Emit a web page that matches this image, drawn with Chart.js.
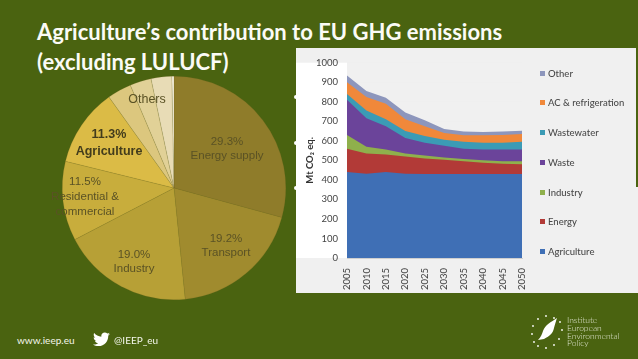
<!DOCTYPE html>
<html lang="en">
<head>
<meta charset="UTF-8">
<title>Agriculture's contribution to EU GHG emissions</title>
<script src="https://cdn.jsdelivr.net/npm/chart.js@4/dist/chart.umd.min.js"></script>
<style>
  html, body { margin: 0; padding: 0; }
  body { width: 638px; height: 359px; background: #4a6310; overflow: hidden; position: relative; font-family: Lato, sans-serif; }
  .abs { position: absolute; }
  h1 { position: absolute; left: 37px; top: 17px; margin: 0; color: #fbfbf6; font: bold 22px/30px Lato, sans-serif; white-space: nowrap; }
  #pieBox { position: absolute; left: 54px; top: 68px; width: 240px; height: 240px; }
  #areaBox { position: absolute; left: 296px; top: 47.500px; width: 342px; height: 245px; background: #f0f0f0; }
  #areaBox canvas, #legend { filter: blur(0.6px); }
  #legend { position: absolute; left: 244px; top: 11px; margin: 0; padding: 0; list-style: none; color: #4a4a4a; font: 500 9.5px/29.8px Lato, sans-serif; white-space: nowrap; }
  #legend i { display: inline-block; width: 5px; height: 5px; margin-right: 3px; vertical-align: 1px; }
  .lab { position: absolute; color: #5a5225; font: 11.5px/14px "Liberation Sans", sans-serif; text-align: center; white-space: nowrap; transform: translateX(-50%); }
  .foot { position: absolute; color: #f4f6ec; font: 10px/14px Lato, sans-serif; top: 333px; }
  .dot { position: absolute; left: 294px; width: 4px; height: 4px; background: #fff; border-radius: 2px; }
</style>
</head>
<body>
<h1>Agriculture’s contribution to EU GHG emissions<br>(excluding LULUCF)</h1>

<div id="pieBox"><canvas id="pie"></canvas></div>
<div class="lab" style="left:227px;top:134px">29.3%<br>Energy supply</div>
<div class="lab" style="left:226px;top:231px">19.2%<br>Transport</div>
<div class="lab" style="left:134px;top:247px">19.0%<br>Industry</div>
<div class="lab" style="left:85px;top:174px;line-height:15px">11.5%<br>Residential &amp;<br>commercial</div>
<div class="lab" style="left:109px;top:126px;font-weight:bold;font-size:12.5px;line-height:17px;color:#423c1c">11.3%<br>Agriculture</div>
<div class="lab" style="left:147px;top:92px;font-size:12.5px">Others</div>

<div class="dot" style="top:95px"></div>
<div class="dot" style="top:141px"></div>
<div class="dot" style="top:186px"></div>
<div id="areaBox"><canvas id="area"></canvas><ul id="legend"></ul></div>
<div class="abs" style="left:636px;top:47px;width:2px;height:140px;background:#4a6310"></div>

<div class="foot" style="left:17px">www.ieep.eu</div>
<svg class="abs" style="left:93px;top:332px" width="17" height="15" viewBox="0 0 24 20"><path fill="#fff" d="M24 2.400c-.9.4-1.800.7-2.800.8 1-.6 1.800-1.600 2.200-2.700-1 .6-2 1-3.100 1.200C19.300.7 18 0 16.600 0c-2.700 0-4.900 2.200-4.900 4.900 0 .4 0 .8.1 1.100C7.700 5.800 4.100 3.900 1.700.9 1.200 1.600 1 2.500 1 3.400c0 1.700.9 3.200 2.200 4.100-.8 0-1.600-.2-2.200-.6v.1c0 2.400 1.700 4.400 3.900 4.800-.7.2-1.500.2-2.200.1.600 2 2.400 3.400 4.600 3.400C5.500 16.500 2.800 17.400 0 17.100 2.200 18.500 4.800 19.300 7.500 19.300c9.100 0 14-7.500 14-14v-.6c1-.7 1.800-1.500 2.500-2.300z"/></svg>
<div class="foot" style="left:114px">@IEEP_eu</div>

<svg class="abs" style="left:526px;top:313px" width="40" height="40" viewBox="0 0 40 40">
  <path fill="#fff" d="M31 5 C25 9 19 12 17 18 C16 21 15 24 12 27 L18 26 C24 23 27 20 28 15 C29 11 30 8 31 5z"/>
  <g fill="#fff"><circle cx="20" cy="3" r=".9"/><circle cx="28" cy="5" r=".9"/><circle cx="34" cy="9" r=".9"/><circle cx="36" cy="17" r=".9"/><circle cx="33" cy="26" r=".9"/><circle cx="28" cy="32" r=".9"/><circle cx="20" cy="35" r=".9"/><circle cx="12" cy="33" r=".9"/><circle cx="8" cy="29" r=".9"/><circle cx="6" cy="21" r=".9"/><circle cx="7" cy="13" r=".9"/><circle cx="12" cy="6" r=".9"/></g>
</svg>
<div class="abs" style="left:567px;top:317px;color:#dfe5cf;font:300 8.500px/7.800px Lato,sans-serif;white-space:nowrap">Institute<br>European<br>Environmental<br>Policy</div>

<script>
const pieLabels = ['Energy supply', 'Transport', 'Industry', 'Residential & commercial', 'Agriculture', 'Others A', 'Others B', 'Others C', 'Others D'];
const pieValues = [29.3, 19.2, 19.0, 11.5, 11.3, 3.5, 3.1, 3.0, 0.3];
const pieColors = ['#8f7c2a', '#a08b2e', '#b7a036', '#c8ad3c', '#dbbb46', '#dcc77e', '#e1d197', '#e8dcb6', '#f6f0dc'];

const years = ['2005', '2010', '2015', '2020', '2025', '2030', '2035', '2040', '2045', '2050'];
const agriculture = [440, 432, 440, 432, 430, 430, 430, 430, 430, 430];
const energy = [120, 103, 90, 88, 80, 73, 65, 58, 52, 50];
const industry = [70, 35, 25, 15, 15, 12, 12, 12, 13, 15];
const waste = [180, 145, 120, 80, 65, 60, 53, 55, 60, 60];
const wastewater = [30, 40, 35, 35, 35, 30, 35, 35, 35, 40];
const acRefrigeration = [60, 70, 80, 60, 50, 35, 33, 38, 40, 40];
const other = [35, 30, 30, 35, 30, 20, 20, 17, 18, 17];
const yTicks = [0, 100, 200, 300, 400, 500, 600, 700, 800, 900, 1000];

Chart.defaults.animation = false;

new Chart(document.getElementById('pie'), {
  type: 'pie',
  data: {
    labels: pieLabels,
    datasets: [{ data: pieValues, backgroundColor: pieColors, borderColor: 'rgba(120,105,40,0.35)', borderWidth: 0.5 }]
  },
  options: {
    responsive: true,
    maintainAspectRatio: false,
    layout: { padding: 8 },
    plugins: { legend: { display: false }, tooltip: { enabled: false } }
  }
});

function area(label, data, color) {
  return { label, data, backgroundColor: color, borderColor: color, borderWidth: 0, fill: true, pointRadius: 0, tension: 0 };
}

const areaChart = new Chart(document.getElementById('area'), {
  type: 'line',
  data: {
    labels: years,
    datasets: [
      area('Agriculture', agriculture, '#3f6fb5'),
      area('Energy', energy, '#b23a37'),
      area('Industry', industry, '#8fb04c'),
      area('Waste', waste, '#6b449a'),
      area('Wastewater', wastewater, '#3b9bb5'),
      area('AC & refrigeration', acRefrigeration, '#f0883a'),
      area('Other', other, '#8d96bc')
    ]
  },
  options: {
    responsive: true,
    maintainAspectRatio: false,
    layout: { padding: { left: 0, top: 13, right: 116, bottom: 0 } },
    scales: {
      x: {
        stacked: true,
        offset: false,
        afterFit: scale => { scale.height = 35; },
        grid: { display: false },
        border: { color: '#cfcfcf' },
        ticks: { color: '#444', font: { family: 'Lato', size: 9.5 }, maxRotation: 90, minRotation: 90, autoSkip: false, padding: 2 }
      },
      y: {
        stacked: true,
        min: 0,
        max: 1000,
        backgroundColor: '#ffffff',
        afterFit: scale => { scale.width = 51; },
        afterBuildTicks: axis => { axis.ticks = yTicks.map(value => ({ value })); },
        grid: { color: '#efefef', drawTicks: false },
        border: { display: false },
        title: { display: true, text: 'Mt CO₂ eq.', color: '#333', font: { family: 'Lato', size: 9.5, weight: 'bold' }, padding: { top: 8, bottom: 0 } },
        ticks: { color: '#444', font: { family: 'Lato', size: 9.5 }, padding: 9, callback: v => String(v) }
      }
    },
    plugins: { legend: { display: false }, tooltip: { enabled: false } }
  }
});

// legend sits at fixed spots on the slide, top item is the last series
document.getElementById('legend').innerHTML = areaChart.data.datasets.slice().reverse()
  .map(d => '<li><i style="background:' + d.backgroundColor + '"></i>' + d.label.replace('&', '&amp;') + '</li>')
  .join('');
</script>
</body>
</html>
